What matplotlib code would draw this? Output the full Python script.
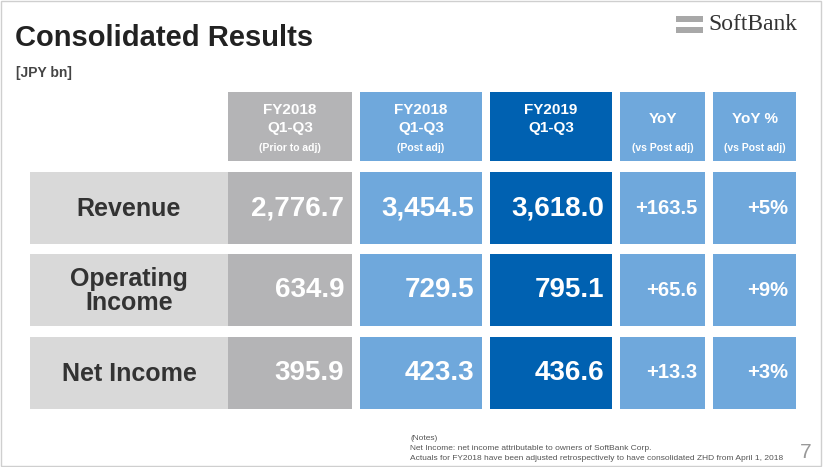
import matplotlib.pyplot as plt
from matplotlib.patches import Rectangle

# data
rows = ["Revenue", "Operating\nIncome", "Net Income"]
prior_adj = ["2,776.7", "634.9", "395.9"]
post_adj = ["3,454.5", "729.5", "423.3"]
fy2019 = ["3,618.0", "795.1", "436.6"]
yoy = ["+163.5", "+65.6", "+13.3"]
yoy_pct = ["+5%", "+9%", "+3%"]
headers = [("FY2018\nQ1-Q3", "(Prior to adj)"), ("FY2018\nQ1-Q3", "(Post adj)"),
           ("FY2019\nQ1-Q3", ""), ("YoY", "(vs Post adj)"), ("YoY %", "(vs Post adj)")]

GRAY = "#b4b4b6"
LIGHT = "#6fa8dc"
DARK = "#0061b1"
BAND = "#d9d9d9"

cols_x = [(228, 352), (360, 482), (490, 612), (620, 705), (713, 796)]
col_colors = [GRAY, LIGHT, DARK, LIGHT, LIGHT]
rows_y = [(172, 244), (254, 326), (337, 409)]

plt.rcParams["font.family"] = "Liberation Sans"
fig = plt.figure(figsize=(8.3, 4.67), dpi=100)
ax = fig.add_axes([0, 0, 1, 1])
ax.set_xlim(0, 830)
ax.set_ylim(467, 0)
ax.axis("off")

ax.add_patch(Rectangle((1, 1), 820, 465, fill=False, ec="#cfcfcf", lw=1))
ax.text(15, 38, "Consolidated Results", fontsize=21, weight="bold", color="#222222", va="center")
ax.text(16, 73, "[JPY bn]", fontsize=10, weight="bold", color="#444444", va="center")

# logo
ax.add_patch(Rectangle((676, 16), 27, 6, color="#a8a8a8", lw=0))
ax.add_patch(Rectangle((676, 27), 27, 6, color="#a8a8a8", lw=0))
ax.text(708, 25, "SoftBank", fontsize=17, family="Liberation Serif", color="#333333", va="center")

# header
for (x0, x1), c, (h, sub) in zip(cols_x, col_colors, headers):
    ax.add_patch(Rectangle((x0, 92), x1 - x0, 69, color=c, lw=0))
    cx = (x0 + x1) / 2
    ax.text(cx, 119, h, fontsize=11, weight="bold", color="white", ha="center", va="center", linespacing=1.35)
    if sub:
        ax.text(cx, 148, sub, fontsize=7.5, weight="bold", color="white", ha="center", va="center")

# body
cols_vals = [prior_adj, post_adj, fy2019, yoy, yoy_pct]
sizes = [20, 20, 20, 14.5, 14.5]
for i, (y0, y1) in enumerate(rows_y):
    ax.add_patch(Rectangle((30, y0), 198, y1 - y0, color=BAND, lw=0))
    ax.text(129, (y0 + y1) / 2 + 1, rows[i], fontsize=18, weight="bold", color="#333333",
            ha="center", va="center", linespacing=1.05)
    for j, ((x0, x1), c) in enumerate(zip(cols_x, col_colors)):
        ax.add_patch(Rectangle((x0, y0), x1 - x0, y1 - y0, color=c, lw=0))
        ax.text(x1 - 8, (y0 + y1) / 2, cols_vals[j][i], fontsize=sizes[j], weight="bold",
                color="white", ha="right", va="center")

ax.text(410, 438, "(Notes)", fontsize=6, color="#555555", va="center")
ax.text(410, 448, "Net Income: net income attributable to owners of SoftBank Corp.", fontsize=6, color="#555555", va="center")
ax.text(410, 458, "Actuals for FY2018 have been adjusted retrospectively to have consolidated ZHD from April 1, 2018",
        fontsize=6, color="#555555", va="center")
ax.text(806, 452, "7", fontsize=15, color="#999999", ha="center", va="center")

fig.savefig("out.png", dpi=100)
